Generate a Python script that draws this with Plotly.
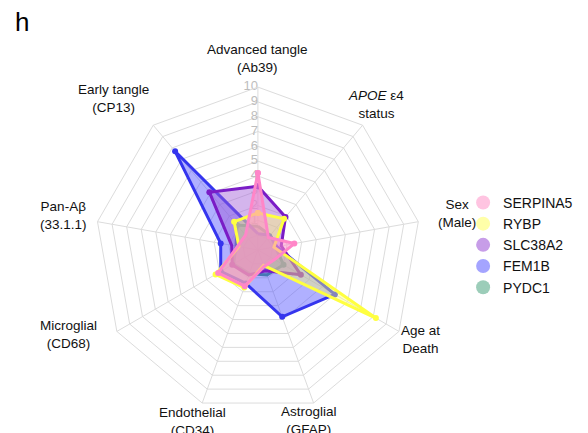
import math
import plotly.graph_objects as go

# ---- data ----
axes_labels = [
    "Advanced tangle<br>(Ab39)",
    "<i>APOE</i> ε4<br>status",
    "Sex<br>(Male)",
    "Age at<br>Death",
    "Astroglial<br>(GFAP)",
    "Endothelial<br>(CD34)",
    "Microglial<br>(CD68)",
    "Pan-Aβ<br>(33.1.1)",
    "Early tangle<br>(CP13)",
]
genes = ["SERPINA5", "RYBP", "SLC38A2", "FEM1B", "PYDC1"]
serpina5 = [4.2, 0.1, 1.5, 0.3, 0.2, 1.6, 2.1, 0.4, 0.3]
rybp = [1.5, 1.75, 0.1, 8.2, 0.1, 1.7, 2.3, 0.3, 1.5]
slc38a2 = [3.3, 1.9, 0.6, 2.35, 0.5, 0.8, 1.0, 0.8, 4.1]
fem1b = [0.1, 0.3, 0.3, 5.0, 3.8, 1.4, 1.9, 1.55, 7.7]
pydc1 = [0.6, 0.3, 0.2, 1.0, 0.8, 0.7, 0.9, 0.5, 1.2]
radial_ticks = [1, 2, 3, 4, 5, 6, 7, 8, 9, 10]
radial_tick_labels = ["1", "2", "3", "4", "5", "6", "7", "8", "9", "10"]

series = {
    "SERPINA5": serpina5,
    "RYBP": rybp,
    "SLC38A2": slc38a2,
    "FEM1B": fem1b,
    "PYDC1": pydc1,
}

# ---- styles ----
W, H = 588, 433
line_colors = {
    "SERPINA5": "#FF86C8",
    "RYBP": "#FFFF40",
    "SLC38A2": "#7A1CC6",
    "FEM1B": "#3535EE",
    "PYDC1": "#3C9A78",
}
fill_colors = {
    "SERPINA5": "rgba(255,140,200,0.55)",
    "RYBP": "rgba(255,255,110,0.40)",
    "SLC38A2": "rgba(160,90,215,0.45)",
    "FEM1B": "rgba(80,80,255,0.45)",
    "PYDC1": "rgba(70,150,120,0.40)",
}
legend_colors = {
    "SERPINA5": "#FFC4E1",
    "RYBP": "#FFFFA8",
    "SLC38A2": "#C79DE8",
    "FEM1B": "#A4A4FF",
    "PYDC1": "#9CCDB9",
}
font_family = "Liberation Sans, Arial, sans-serif"

dom_x = [0.148, 0.702]
dom_y = [0.0647, 0.8176]
# small per-label pixel nudges (dx right, dy down) for spoke labels
label_nudges = [(0, 2), (-6, 3), (8, -3), (-5, -7), (-15, -12),
                (1, -11), (-22, -12), (-4, -1), (-20, -3)]

fig = go.Figure()

# radial tick labels along the top spoke (drawn under the data)
fig.add_trace(go.Scatterpolar(
    r=radial_ticks,
    theta=[axes_labels[0]] * len(radial_ticks),
    mode="text",
    text=radial_tick_labels,
    textposition="middle left",
    textfont=dict(size=13, color="#BDBDBD", family=font_family),
    showlegend=False,
    hoverinfo="skip",
))

# draw order: last gene at bottom, first gene on top
for g in reversed(genes):
    vals = series[g]
    fig.add_trace(go.Scatterpolar(
        r=vals + [vals[0]],
        theta=axes_labels + [axes_labels[0]],
        mode="lines+markers",
        fill="toself",
        fillcolor=fill_colors[g],
        line=dict(color=line_colors[g], width=3),
        marker=dict(color=line_colors[g], size=6),
        showlegend=False,
        name=g,
    ))

# legend entries (circles)
for g in genes:
    fig.add_trace(go.Scatterpolar(
        r=[None], theta=[axes_labels[0]],
        mode="markers",
        marker=dict(color=legend_colors[g], size=14),
        name=g,
        showlegend=True,
    ))

# spoke labels centred outside the polygon (radar-chart style)
cx = (dom_x[0] + dom_x[1]) / 2
cy = (dom_y[0] + dom_y[1]) / 2
radius_px = (dom_x[1] - dom_x[0]) * W / 2
label_r = 1.19 * radius_px
n = len(axes_labels)
annotations = []
for i, lab in enumerate(axes_labels):
    ang = math.radians(90 - 360 * i / n)
    ndx, ndy = label_nudges[i]
    annotations.append(dict(
        x=cx + (label_r * math.cos(ang) + ndx) / W,
        y=cy + (label_r * math.sin(ang) - ndy) / H,
        xref="paper", yref="paper",
        text=lab, showarrow=False,
        xanchor="center", yanchor="middle", align="center",
        font=dict(size=13.5, color="#111111", family=font_family),
    ))

grid_col = "#DCDCDC"
fig.update_layout(
    width=W, height=H,
    margin=dict(l=0, r=0, t=0, b=0),
    paper_bgcolor="white",
    plot_bgcolor="white",
    font=dict(family=font_family, size=13, color="#111111"),
    title=dict(text="h", x=0.012, xanchor="left", y=0.99, yanchor="top",
               font=dict(size=26, color="#000000", family=font_family)),
    annotations=annotations,
    polar=dict(
        domain=dict(x=dom_x, y=dom_y),
        bgcolor="white",
        gridshape="linear",
        radialaxis=dict(
            range=[-1, 10],
            tickvals=[0] + radial_ticks,
            angle=90,
            showticklabels=False,
            showline=False,
            ticks="",
            gridcolor=grid_col,
            gridwidth=1,
        ),
        angularaxis=dict(
            rotation=90,
            direction="clockwise",
            gridcolor=grid_col,
            linecolor=grid_col,
            linewidth=1,
            ticks="",
            showticklabels=False,
        ),
    ),
    legend=dict(
        x=0.774, y=0.587, xanchor="left", yanchor="top",
        font=dict(size=14, color="#111111", family=font_family),
        itemsizing="trace",
        tracegroupgap=0,
    ),
)

fig.write_html("out.html")
